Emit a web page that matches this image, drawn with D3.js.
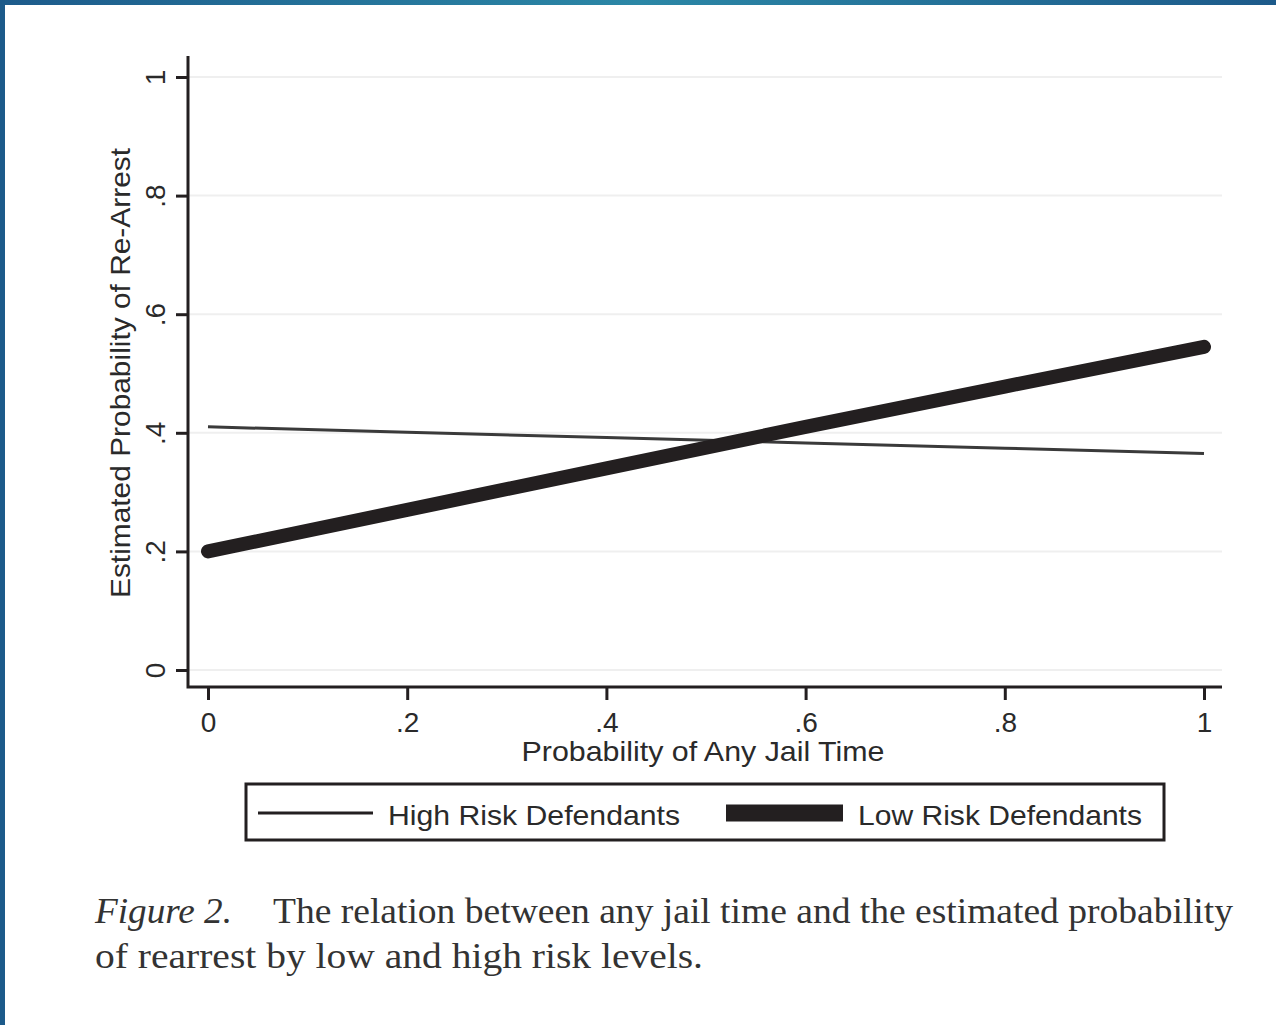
<!DOCTYPE html>
<html>
<head>
<meta charset="utf-8">
<script src="https://cdn.jsdelivr.net/npm/d3@7"></script>
<style>
  body { margin: 0; background: #fff; }
  svg { display: block; }
</style>
</head>
<body>
<svg id="chart" width="1276" height="1025"></svg>
<script>
'use strict';

// values
const xValues = [0, 0.2, 0.4, 0.6, 0.8, 1];
const highRisk = [0.41, 0.401, 0.392, 0.383, 0.374, 0.365];
const lowRisk = [0.20, 0.27, 0.34, 0.41, 0.478, 0.545];
const xTicks = [0, 0.2, 0.4, 0.6, 0.8, 1];
const yTicks = [0, 0.2, 0.4, 0.6, 0.8, 1];
const seriesNames = ["High Risk Defendants", "Low Risk Defendants"];

const ink = "#231f20";
const txt = "#2a2a2a";

let svg = d3.select("#chart");

// blue frame of the slide
let defs = svg.append("defs");
let topGrad = defs.append("linearGradient").attr("id", "topGrad");
topGrad.append("stop").attr("offset", "0%").attr("stop-color", "#1d5b8b");
topGrad.append("stop").attr("offset", "50%").attr("stop-color", "#2b87a6");
topGrad.append("stop").attr("offset", "100%").attr("stop-color", "#1d5a8a");
svg.append("rect").attr("x", 0).attr("y", 0).attr("width", 1276).attr("height", 5).attr("fill", "url(#topGrad)");
svg.append("rect").attr("x", 0).attr("y", 0).attr("width", 5).attr("height", 1025).attr("fill", "#1c5a8a");

// scales
let x = d3.scaleLinear().domain([0, 1]).range([208, 1204]);
let y = d3.scaleLinear().domain([0, 1]).range([670, 77]);

let fmt = d => d === 0 ? "0" : d === 1 ? "1" : String(d).replace("0.", ".");

let plotLeft = 188, plotRight = 1222, plotTop = 56, plotBottom = 687;
let labelFont = "28px 'Liberation Sans', Arial, sans-serif";

// gridlines
svg.append("g").selectAll("line")
    .data(yTicks)
    .join("line")
    .attr("x1", plotLeft).attr("x2", plotRight)
    .attr("y1", d => y(d)).attr("y2", d => y(d))
    .attr("stroke", "#efefef")
    .attr("stroke-width", 2);

// y axis
let yAxis = svg.append("g")
    .attr("transform", `translate(${plotLeft},0)`)
    .call(d3.axisLeft(y).tickValues(yTicks).tickFormat(fmt).tickSize(12).tickSizeOuter(0));
yAxis.select(".domain").remove();
yAxis.selectAll(".tick line").attr("stroke", ink).attr("stroke-width", 3);
yAxis.selectAll(".tick text")
    .attr("x", null).attr("dy", null)
    .attr("transform", "translate(-33,0) rotate(-90)")
    .attr("text-anchor", "middle")
    .attr("dominant-baseline", "central")
    .attr("fill", txt)
    .style("font", labelFont);

// x axis
let xAxis = svg.append("g")
    .attr("transform", `translate(0,${plotBottom})`)
    .call(d3.axisBottom(x).tickValues(xTicks).tickFormat(fmt).tickSize(13).tickSizeOuter(0));
xAxis.select(".domain").remove();
xAxis.selectAll(".tick line").attr("stroke", ink).attr("stroke-width", 3);
xAxis.selectAll(".tick text")
    .attr("y", 35).attr("dy", null)
    .attr("dominant-baseline", "central")
    .attr("fill", txt)
    .style("font", labelFont);

// axis lines
svg.append("path")
    .attr("d", `M${plotLeft},${plotTop}V${plotBottom}H${plotRight}`)
    .attr("fill", "none")
    .attr("stroke", ink)
    .attr("stroke-width", 3);

// axis titles
svg.append("text")
    .attr("x", 703).attr("y", 751)
    .attr("text-anchor", "middle")
    .attr("dominant-baseline", "central")
    .attr("textLength", 363).attr("lengthAdjust", "spacingAndGlyphs")
    .attr("fill", txt)
    .style("font", labelFont)
    .text("Probability of Any Jail Time");

svg.append("text")
    .attr("transform", "translate(120,373) rotate(-90)")
    .attr("text-anchor", "middle")
    .attr("dominant-baseline", "central")
    .attr("textLength", 450).attr("lengthAdjust", "spacingAndGlyphs")
    .attr("fill", txt)
    .style("font", labelFont)
    .text("Estimated Probability of Re-Arrest");

// lines
let line = d3.line().x((d, i) => x(xValues[i])).y(d => y(d));
svg.append("path")
    .datum(highRisk)
    .attr("d", line)
    .attr("fill", "none")
    .attr("stroke", "#3a3a3a")
    .attr("stroke-width", 3);
svg.append("path")
    .datum(lowRisk)
    .attr("d", line)
    .attr("fill", "none")
    .attr("stroke", ink)
    .attr("stroke-width", 14)
    .attr("stroke-linecap", "round");

// legend
let legend = svg.append("g");
legend.append("rect")
    .attr("x", 246).attr("y", 784).attr("width", 918).attr("height", 56)
    .attr("fill", "#fff").attr("stroke", ink).attr("stroke-width", 3);
legend.append("line")
    .attr("x1", 258).attr("x2", 373).attr("y1", 813).attr("y2", 813)
    .attr("stroke", ink).attr("stroke-width", 3);
legend.append("line")
    .attr("x1", 726).attr("x2", 843).attr("y1", 813).attr("y2", 813)
    .attr("stroke", ink).attr("stroke-width", 17);
legend.append("text")
    .attr("x", 388).attr("y", 815)
    .attr("dominant-baseline", "central")
    .attr("textLength", 292).attr("lengthAdjust", "spacingAndGlyphs")
    .attr("fill", txt)
    .style("font", labelFont)
    .text(seriesNames[0]);
legend.append("text")
    .attr("x", 858).attr("y", 815)
    .attr("dominant-baseline", "central")
    .attr("textLength", 284).attr("lengthAdjust", "spacingAndGlyphs")
    .attr("fill", txt)
    .style("font", labelFont)
    .text(seriesNames[1]);

// caption
let capFont = "36px 'Liberation Serif', 'Times New Roman', serif";
svg.append("text")
    .attr("x", 95).attr("y", 923)
    .attr("textLength", 137).attr("lengthAdjust", "spacingAndGlyphs")
    .attr("fill", "#333")
    .style("font", capFont).style("font-style", "italic")
    .text("Figure 2.");
svg.append("text")
    .attr("x", 273).attr("y", 923)
    .attr("textLength", 960).attr("lengthAdjust", "spacingAndGlyphs")
    .attr("fill", "#333")
    .style("font", capFont)
    .text("The relation between any jail time and the estimated probability");
svg.append("text")
    .attr("x", 95).attr("y", 968)
    .attr("textLength", 608).attr("lengthAdjust", "spacingAndGlyphs")
    .attr("fill", "#333")
    .style("font", capFont)
    .text("of rearrest by low and high risk levels.");
</script>
</body>
</html>
